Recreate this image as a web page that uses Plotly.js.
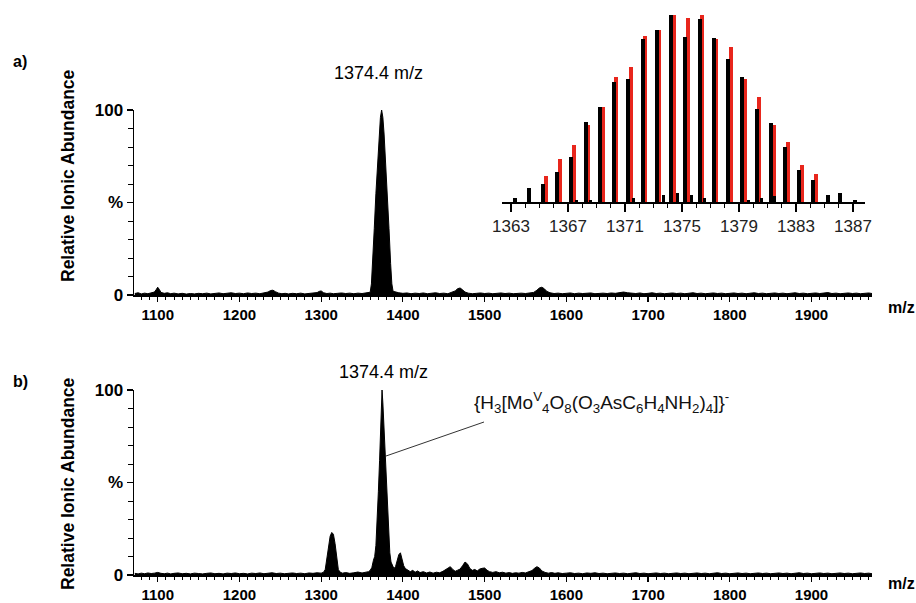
<!DOCTYPE html>
<html>
<head>
<meta charset="utf-8">
<script src="https://cdn.plot.ly/plotly-3.0.1.min.js"></script>
<style>html,body{margin:0;padding:0;background:#fff;}#chart{width:916px;height:603px;}</style>
</head>
<body>
<div id="chart"></div>
<script>
// ---- Panel a: full spectrum (m/z, relative abundance %) ----
const mzA = [1072,1076,1080,1084,1088,1092,1096,1098,1100,1102,1104,1108,1112,1116,1120,1125,1130,1135,1140,1145,1150,1155,1160,1165,1170,1175,1180,1185,1190,1195,1200,1205,1210,1215,1220,1225,1230,1235,1238,1241,1244,1248,1252,1256,1260,1265,1270,1275,1280,1285,1290,1295,1298,1300,1303,1307,1311,1315,1320,1325,1330,1335,1340,1345,1350,1355,1358,
1360,1361.5,1363,1365,1367,1369,1371,1372.5,1374,1375.5,1377,1379,1381,1383,1385,1386.5,1388,
1391,1395,1400,1405,1410,1415,1420,1425,1430,1435,1440,1445,1450,1455,1460,1464,1467,1470,1473,1476,1480,1485,1490,1495,1500,1505,1510,1515,1520,1525,1530,1535,1540,1545,1550,1555,1560,1564,1567,1570,1573,1576,1580,1585,1590,1595,1600,1605,1610,1615,1620,1625,1630,1635,1640,1645,1650,1655,1660,1665,1670,1675,1680,1685,1690,1695,1700,1705,1710,1715,1720,1725,1730,1735,1740,1745,1750,1755,1760,1765,1770,1775,1780,1785,1790,1795,1800,1805,1810,1815,1820,1825,1830,1835,1840,1845,1850,1855,1860,1865,1870,1875,1880,1885,1890,1895,1900,1905,1910,1915,1920,1925,1930,1935,1940,1945,1950,1955,1960,1965,1970,1974];
const intA = [0.8,1.2,0.6,1.0,0.7,1.1,1.6,2.8,4.2,3.0,1.4,0.9,1.2,0.7,1.0,0.6,0.9,0.5,0.8,0.6,0.9,0.7,1.0,0.6,0.8,1.1,0.7,0.9,1.2,0.8,1.0,0.7,1.1,0.8,1.0,0.7,1.0,1.6,2.4,2.6,1.8,1.0,0.7,0.9,0.6,0.9,0.7,1.0,0.6,0.8,1.0,1.3,2.0,2.2,1.2,0.8,1.0,0.7,0.9,1.1,0.8,1.0,0.7,1.0,0.8,1.1,1.2,
1.5,6,17,36,55,72,87,96,100,96,87,72,55,36,17,6,2.0,
1.6,1.2,0.9,1.1,0.7,1.0,0.8,1.1,0.7,0.9,1.2,0.8,1.0,0.7,1.3,2.2,3.4,3.8,2.8,1.6,1.0,0.7,0.9,1.1,0.8,1.0,0.7,0.9,1.1,0.8,1.0,0.7,0.9,1.0,0.8,1.1,1.4,2.6,3.8,4.2,3.4,2.0,1.2,0.8,1.0,0.7,0.9,1.1,0.7,1.0,0.8,0.9,1.1,0.7,0.9,1.0,0.8,1.1,0.9,1.3,1.6,1.2,1.0,0.8,1.1,0.7,0.9,1.2,0.8,1.0,0.7,0.9,1.1,0.8,1.0,0.7,0.9,1.2,0.8,1.0,0.7,0.9,1.1,0.8,1.0,0.7,0.9,1.1,0.8,1.0,0.7,0.9,1.2,0.8,1.0,0.7,0.9,1.1,0.8,1.0,0.7,0.9,1.2,0.8,1.0,0.7,0.9,1.1,0.8,1.0,1.3,0.8,1.0,0.7,0.9,1.1,0.8,1.0,0.7,0.9,1.1,0.8];

// ---- Panel b: full spectrum ----
const mzB = [1072,1076,1080,1084,1088,1092,1096,1100,1104,1108,1112,1116,1120,1125,1130,1135,1140,1145,1150,1155,1160,1165,1170,1175,1180,1185,1190,1195,1200,1205,1210,1215,1220,1225,1230,1235,1240,1245,1250,1255,1260,1265,1270,1275,1280,1285,1290,1295,1300,
1303,1305,1307,1309,1311,1313,1315,1317,1319,1321,1323,1326,1330,1335,1340,1345,1350,1355,1358,
1360,1362,1364,1365.5,1367,1368.5,1370,1371.5,1372.5,1373.5,1374.5,1375.5,1376.5,1378,1379.5,1381,1382.5,1384,1385.5,1387,1389,
1391,1393,1395,1397,1399,1401,1403,1406,1409,1412,1415,1418,1421,1425,1429,1433,1437,1441,1445,1449,1452,1455,1458,1461,1464,1467,1470,1473,1476,1479,1482,1485,1488,1491,1494,1497,1500,1503,1506,1510,1514,1518,1522,1526,1530,1534,1538,1542,1546,1550,1554,1558,1561,1564,1567,1570,1574,1578,1582,1586,1590,1595,1600,1605,1610,1615,1620,1625,1630,1635,1640,1645,1650,1655,1660,1665,1670,1675,1680,1685,1690,1695,1700,1705,1710,1715,1720,1725,1730,1735,1740,1745,1750,1755,1760,1765,1770,1775,1780,1785,1790,1795,1800,1805,1810,1815,1820,1825,1830,1835,1840,1845,1850,1855,1860,1865,1870,1875,1880,1885,1890,1895,1900,1905,1910,1915,1920,1925,1930,1935,1940,1945,1950,1955,1960,1965,1970,1974];
const intB = [0.9,0.6,1.0,0.7,1.1,0.8,1.0,1.4,0.9,0.7,1.0,0.6,0.9,1.1,0.7,0.9,0.6,1.0,0.8,0.6,0.9,1.1,0.7,0.9,0.6,1.0,0.8,1.1,0.7,0.9,0.6,1.0,0.8,1.1,0.7,0.9,1.2,0.8,1.0,0.7,0.9,1.1,0.8,1.0,0.7,1.1,0.9,1.2,1.0,
1.5,3,9,17,21,23,22,17,9,3,1.6,1.0,1.3,0.9,1.2,1.6,1.1,1.4,1.8,
2.5,4,8,10,16,28,45,62,78,92,100,93,84,70,55,40,25,12,7,5,3.5,
4.5,8,11,12,9,5,3.5,2.6,1.8,2.5,1.5,2.2,1.3,1.8,1.1,1.6,1.0,1.5,1.2,2.0,2.8,4.0,4.5,3.0,2.0,2.6,3.2,5.0,7.0,6.0,3.5,2.5,3.0,2.2,3.2,3.6,3.8,2.6,1.8,1.4,1.8,1.2,1.5,1.0,1.3,0.9,1.2,1.0,1.4,1.1,1.6,2.4,3.6,4.5,3.8,2.2,1.4,1.0,1.3,0.9,1.2,0.8,1.0,1.2,0.8,1.0,0.7,1.1,0.9,1.2,0.8,1.0,0.7,0.9,1.1,0.8,1.0,0.7,0.9,1.2,0.8,1.0,0.7,0.9,1.1,0.8,1.0,0.7,0.9,1.1,0.8,1.0,0.7,0.9,1.1,0.8,1.0,0.7,0.9,1.2,0.8,1.0,0.7,0.9,1.1,0.8,1.0,0.7,0.9,1.1,0.8,1.0,0.7,0.9,1.1,0.8,1.0,0.7,0.9,1.2,0.8,1.0,0.7,0.9,1.1,0.8,1.0,0.7,0.9,1.1,0.8,1.0,0.7,0.9,1.1,0.8,1.0,0.7];

// ---- Inset: isotope pattern (experimental black, simulated red) ----
const isoExpX = [1363.26,1364.24,1365.22,1366.22,1367.23,1368.26,1369.26,1370.22,1371.22,1372.23,1373.23,1374.24,1375.24,1376.25,1377.25,1378.21,1379.24,1380.24,1381.25,1382.23,1383.21,1384.21,1385.22,1386.08,1387.13];
const isoExp  = [2,7.5,9.6,16,24,43,51,64,66,87,92,100,88,98,87.5,76.5,67,50,42,29.5,17,12,4,5,1];
const isoSimX = [1365.43,1366.41,1367.42,1368.40,1369.45,1370.38,1371.43,1372.42,1373.42,1374.43,1375.43,1376.43,1377.39,1378.42,1379.43,1380.41,1381.43,1382.42,1383.40,1384.40];
const isoSim  = [13.7,23,30.6,41,51,67,72,89,92,100,98.6,100,87,83,65.7,56.4,41,32,20,15];
const isoMinorX = [1367.58,1368.56,1371.6,1373.7,1374.7,1375.64,1376.6,1379.66,1380.55,1381.5];
const isoMinor  = [1,1,2,4,5,4,2,1,2,3];

const xTicksInset = [1363,1367,1371,1375,1379,1383,1387];
const yTickVals = [0,50,100];
const yTickText = ['0','%','100'];

const FONT = 'Liberation Sans, Arial, Helvetica, sans-serif';
const W = 916, H = 603;
const px = v => v / W;
const py = v => 1 - v / H;

const spec = (x, y, xa, ya) => ({
  type: 'scatter', mode: 'lines', x: x, y: y, xaxis: xa, yaxis: ya,
  line: {color: '#000', width: 1}, fill: 'tozeroy', fillcolor: '#000',
  hoverinfo: 'skip', showlegend: false
});

const traces = [
  spec(mzA, intA, 'x', 'y'),
  spec(mzB, intB, 'x2', 'y2'),
  {type: 'bar', x: isoSimX, y: isoSim, width: 0.28, xaxis: 'x3', yaxis: 'y3',
   marker: {color: '#e8261c', line: {width: 0}}, showlegend: false},
  {type: 'bar', x: isoExpX, y: isoExp, width: 0.28, xaxis: 'x3', yaxis: 'y3',
   marker: {color: '#000', line: {width: 0}}, showlegend: false},
  {type: 'bar', x: isoMinorX, y: isoMinor, width: 0.22, xaxis: 'x3', yaxis: 'y3',
   marker: {color: '#000', line: {width: 0}}, showlegend: false}
];

const mainX = (anchor) => ({
  domain: [px(134), px(872)], range: [1071, 1974], anchor: anchor,
  showline: true, linecolor: '#000', linewidth: 1.5, showgrid: false, zeroline: false,
  ticks: 'outside', tickmode: 'linear', tick0: 1100, dtick: 100, ticklen: 5, tickwidth: 1.2, tickcolor: '#000',
  minor: {ticks: 'outside', tickmode: 'linear', tick0: 1100, dtick: 10, ticklen: 3, tickwidth: 1, tickcolor: '#000'},
  tickfont: {family: FONT, size: 15, color: '#000', weight: 'bold'}
});
const mainY = (anchor, d0, d1) => ({
  domain: [d0, d1], range: [0, 100], anchor: anchor,
  showline: true, linecolor: '#000', linewidth: 1.5, showgrid: false, zeroline: false,
  ticks: 'outside', tickmode: 'array', tickvals: yTickVals, ticktext: yTickText, ticklen: 6, tickwidth: 1.2, tickcolor: '#000',
  minor: {ticks: 'outside', tickmode: 'linear', tick0: 0, dtick: 10, ticklen: 5, tickwidth: 1, tickcolor: '#000'},
  tickfont: {family: FONT, size: 17, color: '#000', weight: 'bold'}
});

const layout = {
  width: W, height: H, margin: {l: 0, r: 0, t: 0, b: 0},
  paper_bgcolor: '#fff', plot_bgcolor: 'rgba(0,0,0,0)',
  barmode: 'overlay', bargap: 0, showlegend: false,
  xaxis: mainX('y'),
  yaxis: mainY('x', py(295), py(110)),
  xaxis2: mainX('y2'),
  yaxis2: mainY('x2', py(575), py(390)),
  xaxis3: {
    domain: [px(502), px(865)], range: [1362.37, 1387.84], anchor: 'y3',
    showline: true, linecolor: '#000', linewidth: 1.5, showgrid: false, zeroline: false,
    ticks: 'outside', tickmode: 'array', tickvals: xTicksInset, ticklen: 8, tickwidth: 1.5, tickcolor: '#000',
    minor: {ticks: 'outside', tickmode: 'linear', tick0: 1363, dtick: 1, ticklen: 4, tickwidth: 1, tickcolor: '#000'},
    tickfont: {family: FONT, size: 17, color: '#222'}
  },
  yaxis3: {domain: [py(202), py(15)], range: [0, 100], anchor: 'x3', visible: false, fixedrange: true},
  shapes: [
    {type: 'line', xref: 'paper', yref: 'paper', x0: px(386), y0: py(456), x1: px(484), y1: py(422),
     line: {color: '#333', width: 1}}
  ],
  annotations: [
    {text: 'a)', x: px(11), y: py(62), xref: 'paper', yref: 'paper', xanchor: 'left', yanchor: 'middle', showarrow: false,
     font: {family: FONT, size: 16, color: '#000', weight: 'bold'}},
    {text: 'b)', x: px(11), y: py(381), xref: 'paper', yref: 'paper', xanchor: 'left', yanchor: 'middle', showarrow: false,
     font: {family: FONT, size: 16, color: '#000', weight: 'bold'}},
    {text: 'Relative Ionic Abundance', x: px(68), y: py(176), xref: 'paper', yref: 'paper', textangle: -90, showarrow: false,
     xanchor: 'center', yanchor: 'middle', font: {family: FONT, size: 17.5, color: '#000', weight: 'bold'}},
    {text: 'Relative Ionic Abundance', x: px(68), y: py(484), xref: 'paper', yref: 'paper', textangle: -90, showarrow: false,
     xanchor: 'center', yanchor: 'middle', font: {family: FONT, size: 17.5, color: '#000', weight: 'bold'}},
    {text: '1374.4 m/z', x: px(378), y: py(73), xref: 'paper', yref: 'paper', showarrow: false, xanchor: 'center', yanchor: 'middle',
     font: {family: FONT, size: 18, color: '#000'}},
    {text: '1374.4 m/z', x: px(383), y: py(372), xref: 'paper', yref: 'paper', showarrow: false, xanchor: 'center', yanchor: 'middle',
     font: {family: FONT, size: 18, color: '#000'}},
    {text: 'm/z', x: px(901), y: py(307), xref: 'paper', yref: 'paper', showarrow: false, xanchor: 'center', yanchor: 'middle',
     font: {family: FONT, size: 16, color: '#000', weight: 'bold'}},
    {text: 'm/z', x: px(901), y: py(583), xref: 'paper', yref: 'paper', showarrow: false, xanchor: 'center', yanchor: 'middle',
     font: {family: FONT, size: 16, color: '#000', weight: 'bold'}},
    {text: '{H<sub>3</sub>[Mo<sup>V</sup><sub>4</sub>O<sub>8</sub>(O<sub>3</sub>AsC<sub>6</sub>H<sub>4</sub>NH<sub>2</sub>)<sub>4</sub>]}<sup>-</sup>',
     x: px(472), y: py(402), xref: 'paper', yref: 'paper', showarrow: false, xanchor: 'left', yanchor: 'middle',
     font: {family: FONT, size: 19, color: '#111'}}
  ]
};

Plotly.newPlot('chart', traces, layout, {staticPlot: true, displayModeBar: false});
</script>
</body>
</html>
